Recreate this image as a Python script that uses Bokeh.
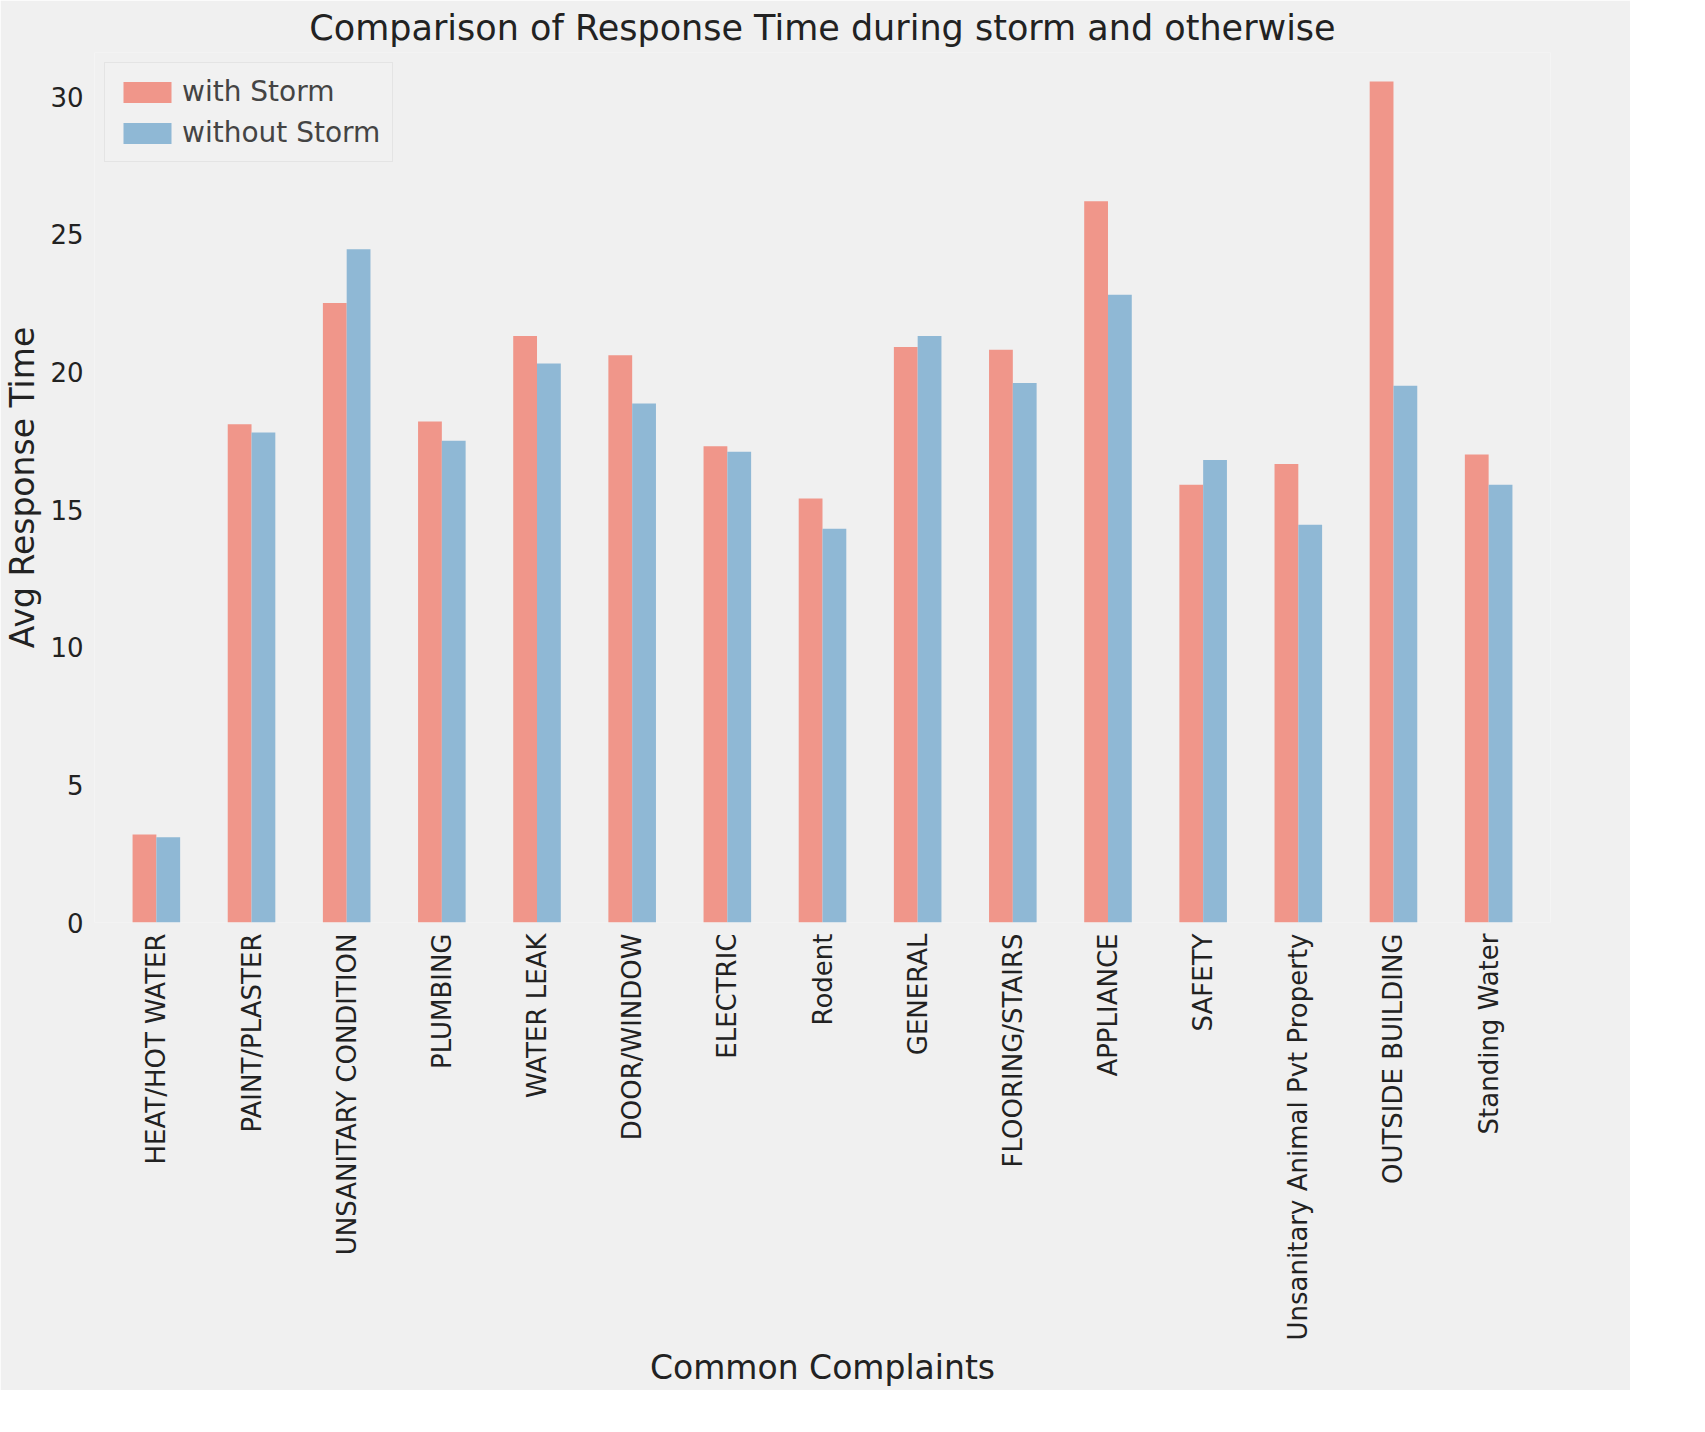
import math
from bokeh.plotting import figure
from bokeh.models import FactorRange, ColumnDataSource, Legend, LegendItem
from bokeh.transform import dodge
from bokeh.embed import file_html
from bokeh.resources import INLINE

categories = ["HEAT/HOT WATER","PAINT/PLASTER","UNSANITARY CONDITION","PLUMBING","WATER LEAK",
              "DOOR/WINDOW","ELECTRIC","Rodent","GENERAL","FLOORING/STAIRS","APPLIANCE","SAFETY",
              "Unsanitary Animal Pvt Property","OUTSIDE BUILDING","Standing Water"]
with_storm = [3.2,18.1,22.5,18.2,21.3,20.6,17.3,15.4,20.9,20.8,26.2,15.9,16.65,30.55,17.0]
without_storm = [3.1,17.8,24.45,17.5,20.3,18.85,17.1,14.3,21.3,19.6,22.8,16.8,14.45,19.5,15.9]

src = ColumnDataSource(dict(cat=categories, w=with_storm, wo=without_storm))
bg = "#f0f0f0"
p = figure(x_range=FactorRange(*categories, range_padding=0.02), y_range=(0, 31.6),
           width=1630, height=1390, output_backend="svg", toolbar_location=None,
           background_fill_color=bg, border_fill_color=bg,
           title="Comparison of Response Time during storm and otherwise")
p.min_border_right = 80
p.min_border_top = 30
p.min_border_bottom = 40
r1 = p.vbar(x=dodge("cat", -0.125, range=p.x_range), top="w", width=0.25, source=src,
            color="#f0968a", line_color=None)
r2 = p.vbar(x=dodge("cat", 0.125, range=p.x_range), top="wo", width=0.25, source=src,
            color="#8fb8d5", line_color=None)
p.title.text_font = "DejaVu Sans"; p.title.text_font_size = "35px"; p.title.text_font_style = "normal"
p.title.align = "center"; p.title.text_color = "#222222"
p.xgrid.grid_line_color = None; p.ygrid.grid_line_color = None
p.outline_line_color = None
for ax in (p.xaxis[0], p.yaxis[0]):
    ax.axis_line_color = None
    ax.major_tick_line_color = None
    ax.minor_tick_line_color = None
    ax.major_label_text_font = "DejaVu Sans"
    ax.major_label_text_font_size = "26px"
    ax.major_label_text_color = "#222222"
    ax.axis_label_text_font = "DejaVu Sans"
    ax.axis_label_text_font_size = "33px"
    ax.axis_label_text_font_style = "normal"
    ax.axis_label_text_color = "#222222"
p.xaxis.major_label_orientation = math.pi / 2
p.xaxis.axis_label = "Common Complaints"
p.yaxis.axis_label = "Avg Response Time"
p.yaxis.ticker = [0, 5, 10, 15, 20, 25, 30]
leg = Legend(items=[LegendItem(label="with Storm", renderers=[r1]),
                    LegendItem(label="without Storm", renderers=[r2])],
             location="top_left", background_fill_color=bg, border_line_color="#d8d8d8",
             label_text_font="DejaVu Sans", label_text_font_size="28px",
             glyph_width=60, glyph_height=26, spacing=8, padding=12)
p.add_layout(leg)
open("out.html", "w").write(file_html(p, INLINE))
